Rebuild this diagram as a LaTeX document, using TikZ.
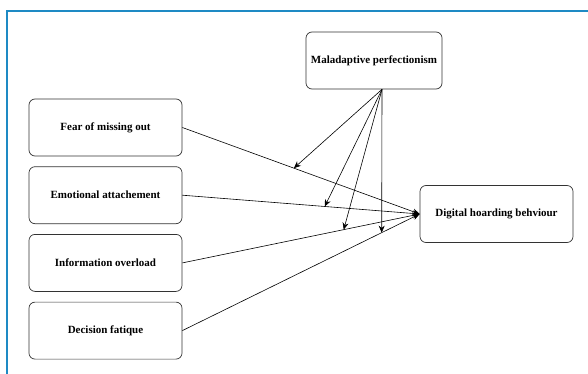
\documentclass[tikz,border=0pt]{standalone}
\usepackage{fontspec}
\setmainfont{Liberation Serif}
\usetikzlibrary{arrows.meta,positioning}
\definecolor{frameblue}{RGB}{30,138,196}

\begin{document}
\begin{tikzpicture}[x=1pt,y=1pt,
      mybox/.style={
         rectangle,
         rounded corners=6pt,
         draw=black!80,
         line width=0.7pt,
         minimum width=153pt,
         minimum height=57pt,
         font=\bfseries\fontsize{11}{13}\selectfont},
      myarrow/.style={-{Stealth[length=7pt,width=6pt]}, line width=0.6pt},
      node distance=10pt and 10pt
      ]
\useasboundingbox (0,0) rectangle (588,-374);
\draw[frameblue, line width=2.5pt] (7,-374) -- (7,-11) -- (588,-11);

      \node[mybox] (fear) at (105.5,-127.5) {Fear of missing out};
      \node[mybox, below = of fear] (emo) {Emotional attachement};
      \node[mybox, below = of emo] (info) {Information overload};
      \node[mybox, below = of info] (dec) {Decision fatique};

      \node[mybox, minimum width=136pt] (mal) at (374,-60.5) {Maladaptive perfectionism};
      \node[mybox] (dig) at (496.5,-214) {Digital hoarding behviour};

    \foreach \i/\p/\m in {% start node/position/moderation point
	  fear/0.47/m1,
	emo/0.6/m2,
	info/0.68/m3,
	dec/0.84/m4}
       \draw [myarrow] (\i.east) -- coordinate[pos=\p] (\m) (dig.west);
%
\coordinate (src) at ([xshift=8pt]mal.south);
\foreach \m in {m1,m2,m3,m4}
   \draw[myarrow] (src) -- (\m);

    \end{tikzpicture}
\end{document}
